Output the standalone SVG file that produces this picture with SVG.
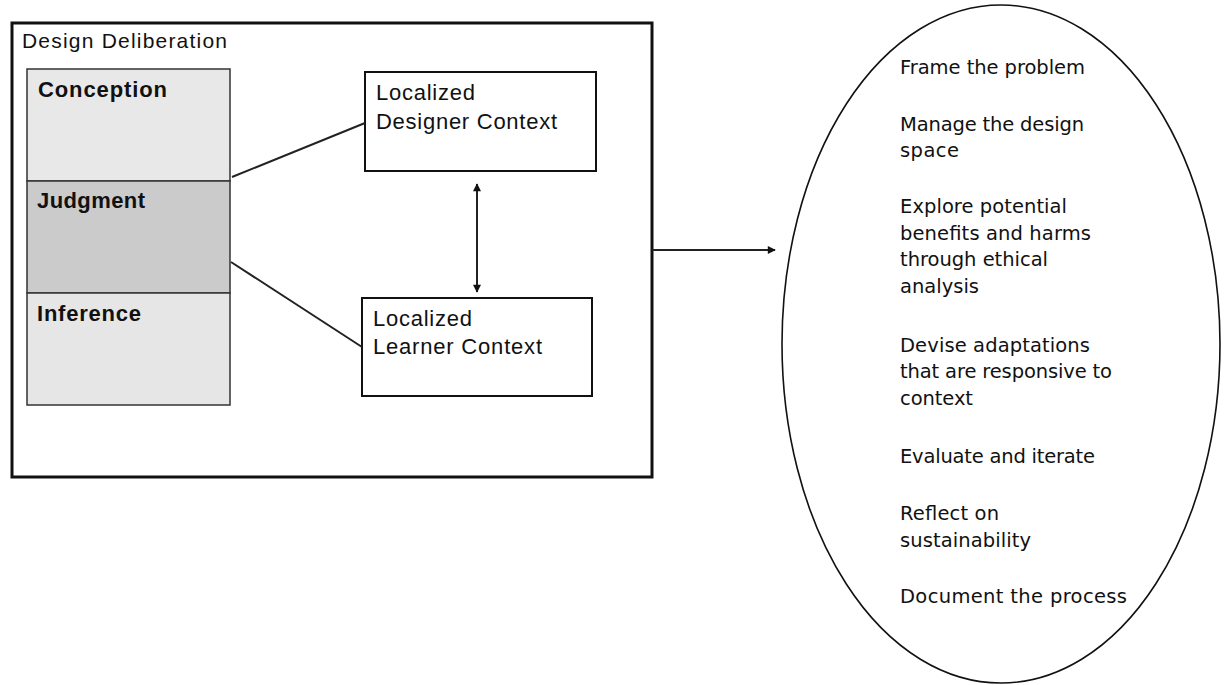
<svg xmlns="http://www.w3.org/2000/svg" width="1225" height="685" viewBox="0 0 1225 685">
<style>
.lbl{font-family:"Liberation Sans",Arial,sans-serif;font-size:22px;fill:#111}
.title{font-family:"Liberation Sans",Arial,sans-serif;font-size:21px;fill:#111}
.bold{font-family:"Liberation Sans",Arial,sans-serif;font-size:22px;font-weight:bold;fill:#111}
.step{font-family:"DejaVu Sans","Liberation Sans",sans-serif;font-size:19.5px;fill:#111}
.box{fill:#fff;stroke:#111;stroke-width:2}
.conn{fill:none;stroke:#222;stroke-width:2}
</style>
<defs>
<marker id="ah" viewBox="0 0 10 10" refX="9" refY="5" markerWidth="9" markerHeight="8" markerUnits="userSpaceOnUse" orient="auto-start-reverse">
<path d="M0,0 L10,5 L0,10 z" fill="#111"/>
</marker>
</defs>
<rect width="1225" height="685" fill="#fff"/>

<g id="design-deliberation">
<rect x="12" y="23" width="640" height="454" fill="#fff" stroke="#111" stroke-width="3"/>
<text class="title" x="22" y="48" textLength="205" lengthAdjust="spacing">Design Deliberation</text>
</g>

<g id="conception">
<rect x="27" y="69" width="203" height="112" fill="#e8e8e8" stroke="#333" stroke-width="1.5"/>
<text class="bold" x="38" y="97" textLength="129" lengthAdjust="spacing">Conception</text>
</g>
<g id="judgment">
<rect x="27" y="181" width="203" height="112" fill="#cbcbcb" stroke="#333" stroke-width="1.5"/>
<text class="bold" x="37" y="208" textLength="108" lengthAdjust="spacing">Judgment</text>
</g>
<g id="inference">
<rect x="27" y="293" width="203" height="112" fill="#e6e6e6" stroke="#333" stroke-width="1.5"/>
<text class="bold" x="37" y="321" textLength="104" lengthAdjust="spacing">Inference</text>
</g>

<g id="designer-context">
<rect class="box" x="365" y="72" width="231" height="99"/>
<text class="lbl" x="376" y="100" textLength="99" lengthAdjust="spacing">Localized</text>
<text class="lbl" x="376" y="129" textLength="181" lengthAdjust="spacing">Designer Context</text>
</g>
<g id="learner-context">
<rect class="box" x="362" y="298" width="230" height="98"/>
<text class="lbl" x="373" y="326" textLength="99" lengthAdjust="spacing">Localized</text>
<text class="lbl" x="373" y="354" textLength="169" lengthAdjust="spacing">Learner Context</text>
</g>

<g id="design-steps">
<ellipse cx="1001" cy="344" rx="219" ry="339" fill="none" stroke="#111" stroke-width="1.6"/>
<text class="step" x="900" y="74" textLength="185" lengthAdjust="spacing">Frame the problem</text>
<text class="step" x="900" y="131" textLength="184" lengthAdjust="spacing">Manage the design</text>
<text class="step" x="900" y="157" textLength="59" lengthAdjust="spacing">space</text>
<text class="step" x="900" y="213" textLength="167" lengthAdjust="spacing">Explore potential</text>
<text class="step" x="900" y="240" textLength="191" lengthAdjust="spacing">benefits and harms</text>
<text class="step" x="900" y="266" textLength="148" lengthAdjust="spacing">through ethical</text>
<text class="step" x="900" y="293" textLength="79" lengthAdjust="spacing">analysis</text>
<text class="step" x="900" y="352" textLength="190" lengthAdjust="spacing">Devise adaptations</text>
<text class="step" x="900" y="378" textLength="212" lengthAdjust="spacing">that are responsive to</text>
<text class="step" x="900" y="405" textLength="73" lengthAdjust="spacing">context</text>
<text class="step" x="900" y="463" textLength="195" lengthAdjust="spacing">Evaluate and iterate</text>
<text class="step" x="900" y="520" textLength="99" lengthAdjust="spacing">Reflect on</text>
<text class="step" x="900" y="547" textLength="131" lengthAdjust="spacing">sustainability</text>
<text class="step" x="900" y="603" textLength="227" lengthAdjust="spacing">Document the process</text>
</g>

<g id="connectors">
<line class="conn" x1="232" y1="177" x2="365" y2="123"/>
<line class="conn" x1="231" y1="262" x2="362" y2="347" stroke="#555"/>
<line class="conn" x1="477" y1="184" x2="477" y2="292" marker-start="url(#ah)" marker-end="url(#ah)"/>
<line class="conn" x1="652" y1="250" x2="775" y2="250" marker-end="url(#ah)"/>
</g>
</svg>
